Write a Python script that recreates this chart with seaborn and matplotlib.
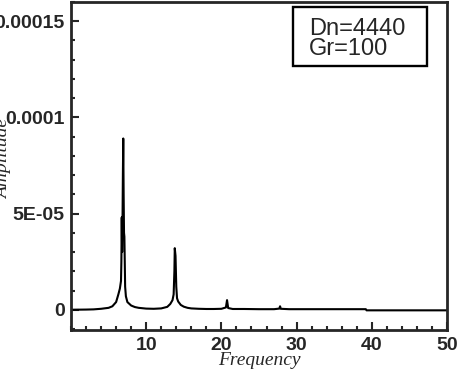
import numpy as np
import pandas as pd
import matplotlib as mpl
mpl.use('Agg')
import matplotlib.pyplot as plt
import seaborn as sns
from matplotlib.ticker import MultipleLocator
from matplotlib.patches import Rectangle

# frequency / amplitude (amplitude in 1e-6)
freq = [0, 2, 3, 4, 5, 5.5, 6, 6.3, 6.5, 6.65, 6.7, 6.75, 6.8, 6.85, 6.9, 6.95,
        7.0, 7.05, 7.1, 7.15, 7.2, 7.3, 7.5, 8, 8.5, 9, 10, 11, 12, 12.8,
        13.2, 13.5, 13.65, 13.75, 13.8, 13.9, 14.0, 14.1, 14.25, 14.6, 15, 15.5,
        16, 17, 18, 19, 20, 20.6, 20.75, 20.9, 21.5, 23, 25, 27, 27.7, 27.8,
        27.9, 29, 32, 35, 39.2, 39.3, 45, 50]
amp = [0, 0.1, 0.2, 0.5, 1.0, 1.8, 4, 8, 11, 15, 25, 48, 30, 45, 70, 89,
       60, 40, 38, 25, 12, 7, 4, 2.2, 1.4, 1.0, 0.6, 0.5, 0.7, 1.5,
       3, 5, 8, 20, 32, 28, 12, 6, 4.3, 2.5, 1.6, 1.0,
       0.7, 0.5, 0.4, 0.4, 0.5, 1.2, 5, 0.9, 0.4, 0.4, 0.3, 0.3, 0.6, 1.8,
       0.5, 0.3, 0.3, 0.3, 0.3, -0.3, -0.3, -0.3]

yticks = [0, 5e-5, 1e-4, 1.5e-4]
ylabels = ['0', '5E-05', '0.0001', '0.00015']
xticks = [10, 20, 30, 40, 50]

df = pd.DataFrame({'Frequency': freq, 'Amplitude': np.array(amp) * 1e-6})

sns.set_style("ticks")
plt.rcParams['font.family'] = ['Liberation Sans', 'DejaVu Sans']

fig = plt.figure(figsize=(4.58, 3.72), dpi=100)
ax = fig.add_axes([0.155, 0.113, 0.821, 0.882])
sns.lineplot(x='Frequency', y='Amplitude', data=df, color='black', lw=1.5, ax=ax,
             estimator=None, sort=False)

ax.set_xlim(0, 50)
ax.set_ylim(-1.05e-5, 1.6e-4)
ax.set_xticks(xticks)
ax.xaxis.set_minor_locator(MultipleLocator(2))
ax.set_yticks(yticks)
ax.set_yticklabels(ylabels)
ax.yaxis.set_minor_locator(MultipleLocator(1e-5))
ax.tick_params(which='both', direction='in', width=1.5, top=False, right=False,
               labelsize=14)
ax.tick_params(axis='y', pad=4.5)
ax.tick_params(axis='x', pad=5)
ax.tick_params(which='major', length=5.5)
ax.tick_params(which='minor', length=3)
for lab in ax.get_xticklabels() + ax.get_yticklabels():
    lab.set_fontweight('bold')
for s in ax.spines.values():
    s.set_linewidth(2)
    s.set_visible(True)

ax.set_xlabel('Frequency', fontfamily='Liberation Serif', fontstyle='italic', fontsize=14)
ax.set_ylabel('Amplitude', fontfamily='Liberation Serif', fontstyle='italic', fontsize=14)
ax.xaxis.set_label_coords(0.5, -0.067)
ax.yaxis.set_label_coords(-0.157, 0.521)

# annotation box
ax.add_patch(Rectangle((0.590, 0.805), 0.357, 0.180, transform=ax.transAxes,
                       fc='white', ec='black', lw=1.7, zorder=5))
ax.text(0.633, 0.899, 'Dn=4440', transform=ax.transAxes, ha='left', va='baseline',
        fontsize=17, zorder=6)
ax.text(0.633, 0.838, 'Gr=100', transform=ax.transAxes, ha='left', va='baseline',
        fontsize=17, zorder=6)

fig.savefig('out.png', dpi=100)
